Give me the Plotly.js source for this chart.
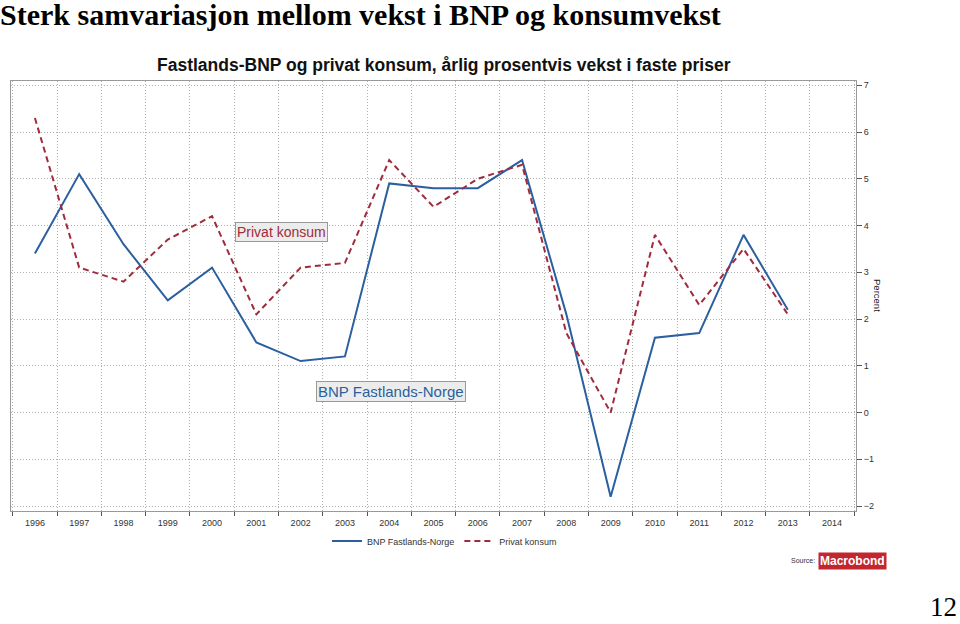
<!DOCTYPE html>
<html>
<head>
<meta charset="utf-8">
<script src="https://cdn.plot.ly/plotly-3.0.1.min.js"></script>
<style>html,body{margin:0;padding:0;background:#fff;}#chart{width:960px;height:624px;}</style>
</head>
<body>
<div id="chart"></div>
<script>
const years = [1996,1997,1998,1999,2000,2001,2002,2003,2004,2005,2006,2007,2008,2009,2010,2011,2012,2013];
const bnpFastland = [3.4,5.1,3.6,2.4,3.1,1.5,1.1,1.2,4.9,4.8,4.8,5.4,2.1,-1.8,1.6,1.7,3.8,2.2];
const privatKonsum = [6.3,3.1,2.8,3.7,4.2,2.1,3.1,3.2,5.4,4.4,5.0,5.3,1.7,0.0,3.8,2.3,3.5,2.1];
const tickYears = [1996,1997,1998,1999,2000,2001,2002,2003,2004,2005,2006,2007,2008,2009,2010,2011,2012,2013,2014];
const yTicks = [-2,-1,0,1,2,3,4,5,6,7];

const blue = '#2b5f9f';
const red = '#a12b3d';
const gridDash = '1px,2px';

const traces = [
  {x: years, y: bnpFastland, name: 'BNP Fastlands-Norge', type: 'scatter', mode: 'lines',
   line: {color: blue, width: 2}},
  {x: years, y: privatKonsum, name: 'Privat konsum', type: 'scatter', mode: 'lines',
   line: {color: red, width: 2, dash: '6px,4px'}}
];

const layout = {
  width: 960, height: 624,
  margin: {l: 11, r: 104, t: 81, b: 113},
  paper_bgcolor: '#fff', plot_bgcolor: '#fff',
  font: {family: 'Liberation Sans, Arial, sans-serif', color: '#333', size: 9},
  title: {
    text: '<b>Sterk samvariasjon mellom vekst i BNP og konsumvekst</b>',
    x: 0, xref: 'container', xanchor: 'left',
    y: 0.994, yref: 'container', yanchor: 'top',
    pad: {t: 0, l: 0, r: 0, b: 0},
    font: {family: 'Liberation Serif, Times New Roman, serif', size: 30, color: '#000'}
  },
  showlegend: true,
  legend: {orientation: 'h', x: 0.513, xanchor: 'center', y: -0.07, yanchor: 'middle',
           font: {size: 9, color: '#333'}, itemwidth: 30, tracegroupgap: 0},
  xaxis: {
    range: [1995.46, 2014.54],
    tickmode: 'array', tickvals: tickYears, ticktext: tickYears.map(String),
    showgrid: false, zeroline: false,
    ticks: 'outside', ticklen: 3, tickcolor: 'rgba(0,0,0,0)',
    tickfont: {size: 9, color: '#333'},
    showline: true, mirror: true, linecolor: '#999', linewidth: 1,
    minor: {tick0: 1995.5, dtick: 1, showgrid: true, gridcolor: '#b0b0b0', griddash: gridDash,
            gridwidth: 1, ticks: 'outside', ticklen: 4, tickcolor: '#555', tickwidth: 1}
  },
  yaxis: {
    range: [-2.107, 7.092], side: 'right',
    tickmode: 'array', tickvals: yTicks,
    showgrid: true, gridcolor: '#b0b0b0', griddash: gridDash, gridwidth: 1,
    zeroline: false,
    ticks: 'outside', ticklen: 5, tickcolor: '#555',
    tickfont: {size: 9, color: '#333'},
    showline: true, mirror: true, linecolor: '#999', linewidth: 1
  },
  annotations: [
    {text: '<b>Fastlands-BNP og privat konsum, årlig prosentvis vekst i faste priser</b>', xref: 'paper', yref: 'paper',
     x: 0.513, xanchor: 'center', y: 1.037, yanchor: 'middle', showarrow: false,
     font: {family: 'Liberation Sans Narrow, Arial Narrow, Liberation Sans, Arial, sans-serif', size: 17.5, color: '#111'}},
    {text: 'Privat konsum', xref: 'x', yref: 'y', x: 2001.56, y: 3.87, xanchor: 'center', yanchor: 'middle', showarrow: false,
     font: {size: 14, color: red, family: 'Liberation Sans, Arial, sans-serif'},
     bgcolor: '#ececec', bordercolor: '#999', borderwidth: 1, borderpad: 1},
    {text: 'BNP Fastlands-Norge', xref: 'x', yref: 'y', x: 2004.04, y: 0.44, xanchor: 'center', yanchor: 'middle', showarrow: false,
     font: {size: 15, color: blue, family: 'Liberation Sans, Arial, sans-serif'},
     bgcolor: '#ececec', bordercolor: '#999', borderwidth: 1, borderpad: 1},
    {text: 'Percent', xref: 'paper', yref: 'paper', x: 1.026, y: 0.5, xanchor: 'center', yanchor: 'middle',
     textangle: 90, showarrow: false, font: {size: 9.5, color: '#222'}},
    {text: 'Source:', xref: 'paper', yref: 'paper', x: 0.937, y: -0.116, xanchor: 'center', yanchor: 'middle',
     showarrow: false, font: {size: 7, color: '#333'}},
    {text: '<b>Macrobond</b>', xref: 'paper', yref: 'paper', x: 0.996, y: -0.116, xanchor: 'center', yanchor: 'middle',
     showarrow: false, font: {size: 12, color: '#fff', family: 'Liberation Sans Narrow, Arial Narrow, sans-serif'},
     bgcolor: '#c1272d', borderpad: 1},
    {text: '12', xref: 'paper', yref: 'paper', x: 1.104, y: -0.2628, xanchor: 'center', yanchor: 'bottom',
     showarrow: false, font: {size: 27, color: '#000', family: 'Liberation Serif, Times New Roman, serif'}}
  ]
};

Plotly.newPlot('chart', traces, layout, {displayModeBar: false, staticPlot: true});
</script>
</body>
</html>
